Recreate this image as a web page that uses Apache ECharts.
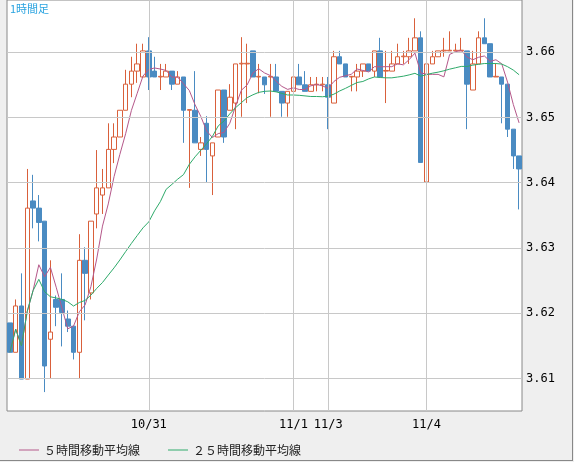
<!DOCTYPE html>
<html>
<head>
<meta charset="utf-8">
<script src="https://cdn.jsdelivr.net/npm/echarts@6/dist/echarts.min.js"></script>
<style>
html,body{margin:0;padding:0;background:#efefef;}
#chart{width:572px;height:460px;border-right:1px solid #888;border-bottom:1px solid #888;}
</style>
</head>
<body>
<div id="chart"></div>
<script>
// 時間足 [始値, 終値, 安値, 高値]
var ohlc = [
 [3.6185,3.6140,3.6140,3.6185],[3.6140,3.6211,3.6140,3.6221],[3.6211,3.6099,3.6099,3.6261],
 [3.6099,3.6361,3.6099,3.6421],[3.6372,3.6361,3.6330,3.6412],[3.6361,3.6339,3.6310,3.6381],
 [3.6341,3.6119,3.6079,3.6341],[3.6160,3.6171,3.6099,3.6281],[3.6221,3.6209,3.6180,3.6227],
 [3.6221,3.6201,3.6149,3.6261],[3.6191,3.6180,3.6171,3.6204],[3.6180,3.6140,3.6129,3.6180],
 [3.6140,3.6281,3.6099,3.6321],[3.6281,3.6261,3.6189,3.6301],[3.6231,3.6341,3.6221,3.6341],
 [3.6352,3.6392,3.6330,3.6450],[3.6381,3.6392,3.6352,3.6421],[3.6392,3.6451,3.6392,3.6491],
 [3.6451,3.6470,3.6430,3.6491],[3.6470,3.6511,3.6470,3.6511],[3.6511,3.6551,3.6511,3.6573],
 [3.6551,3.6571,3.6531,3.6593],[3.6571,3.6582,3.6553,3.6613],[3.6562,3.6602,3.6562,3.6613],
 [3.6602,3.6562,3.6542,3.6623],[3.6571,3.6562,3.6562,3.6593],[3.6562,3.6563,3.6542,3.6582],
 [3.6562,3.6571,3.6562,3.6582],[3.6571,3.6551,3.6542,3.6571],[3.6551,3.6562,3.6551,3.6571],
 [3.6562,3.6511,3.6461,3.6562],[3.6511,3.6512,3.6392,3.6512],[3.6511,3.6461,3.6461,3.6571],
 [3.6451,3.6461,3.6441,3.6470],[3.6491,3.6451,3.6401,3.6502],[3.6441,3.6461,3.6381,3.6461],
 [3.6470,3.6542,3.6470,3.6542],[3.6542,3.6470,3.6461,3.6542],[3.6511,3.6531,3.6511,3.6551],
 [3.6522,3.6582,3.6482,3.6582],[3.6582,3.6583,3.6501,3.6623],[3.6582,3.6583,3.6522,3.6613],
 [3.6602,3.6562,3.6562,3.6602],[3.6562,3.6563,3.6537,3.6582],[3.6562,3.6550,3.6536,3.6562],
 [3.6562,3.6563,3.6501,3.6582],[3.6562,3.6540,3.6540,3.6582],[3.6540,3.6522,3.6501,3.6540],
 [3.6522,3.6540,3.6501,3.6540],[3.6540,3.6562,3.6540,3.6571],[3.6562,3.6550,3.6550,3.6582],
 [3.6550,3.6540,3.6540,3.6571],[3.6540,3.6550,3.6540,3.6562],[3.6550,3.6551,3.6540,3.6562],
 [3.6550,3.6551,3.6540,3.6562],[3.6550,3.6531,3.6482,3.6562],[3.6522,3.6593,3.6522,3.6602],
 [3.6593,3.6582,3.6582,3.6602],[3.6582,3.6562,3.6562,3.6582],[3.6562,3.6563,3.6540,3.6562],
 [3.6562,3.6571,3.6540,3.6582],[3.6571,3.6582,3.6562,3.6582],[3.6582,3.6571,3.6571,3.6582],
 [3.6571,3.6602,3.6562,3.6602],[3.6602,3.6562,3.6562,3.6622],[3.6571,3.6572,3.6522,3.6602],
 [3.6571,3.6582,3.6571,3.6602],[3.6582,3.6593,3.6582,3.6613],[3.6593,3.6594,3.6582,3.6602],
 [3.6593,3.6602,3.6582,3.6622],[3.6602,3.6622,3.6602,3.6652],[3.6622,3.6431,3.6431,3.6632],
 [3.6401,3.6582,3.6401,3.6602],[3.6582,3.6593,3.6582,3.6602],[3.6593,3.6602,3.6593,3.6602],
 [3.6602,3.6603,3.6593,3.6622],[3.6602,3.6603,3.6602,3.6632],[3.6602,3.6603,3.6602,3.6613],
 [3.6602,3.6603,3.6602,3.6622],[3.6602,3.6551,3.6482,3.6602],[3.6542,3.6582,3.6542,3.6602],
 [3.6582,3.6622,3.6582,3.6632],[3.6622,3.6613,3.6613,3.6652],[3.6613,3.6562,3.6562,3.6613],
 [3.6562,3.6563,3.6562,3.6582],[3.6562,3.6551,3.6491,3.6562],[3.6551,3.6482,3.6470,3.6551],
 [3.6482,3.6441,3.6421,3.6482],[3.6441,3.6421,3.6359,3.6441]
];
// 日付の区切り(インデックス → ラベル)
var dayIdx = [24, 49, 55, 72];
var dayLabels = ['10/31', '11/1', '11/3', '11/4'];
var yTicks = [3.61, 3.62, 3.63, 3.64, 3.65, 3.66];

var cats = ohlc.map(function (d, i) { return i; });

function calcMA(n) {
    var out = [];
    for (var i = 0; i < ohlc.length; i++) {
        var s = 0, c = 0;
        for (var j = Math.max(0, i - n + 1); j <= i; j++) { s += ohlc[j][1]; c++; }
        out.push(+(s / c).toFixed(5));
    }
    return out;
}

var myChart = echarts.init(document.getElementById('chart'));
var gridLine = {color: '#c8c8c8', width: 1, type: 'solid'};
var option = {
    animation: false,
    backgroundColor: '#efefef',
    textStyle: {fontFamily: 'DejaVu Sans Mono'},
    graphic: [{
        type: 'text', left: 10, top: 3,
        style: {text: '1時間足', fill: '#29a3e0', font: '11px "Noto Sans CJK JP"'}
    }],
    legend: {
        left: 14, top: 439, itemWidth: 20, itemHeight: 1, itemGap: 28,
        icon: 'rect',
        textStyle: {fontFamily: 'Noto Sans CJK JP', fontSize: 12, color: '#222'},
        data: ['５時間移動平均線', '２５時間移動平均線']
    },
    grid: {
        left: 7, right: 50, top: 0, bottom: 49,
        show: true, backgroundColor: '#fff', borderColor: '#888', borderWidth: 1
    },
    xAxis: {
        type: 'category', data: cats, boundaryGap: true,
        axisLine: {show: false}, axisTick: {show: false}, splitLine: {show: false},
        axisLabel: {
            interval: 0, color: '#000', fontSize: 12, margin: 8,
            formatter: function (v, i) {
                var k = dayIdx.indexOf(i);
                return k >= 0 ? dayLabels[k] : '';
            }
        }
    },
    yAxis: {
        type: 'value', position: 'right', scale: true,
        min: 3.605, max: 3.668, interval: 0.005,
        axisLine: {show: false}, axisTick: {show: false}, splitLine: {show: false},
        axisLabel: {
            color: '#000', fontSize: 12, margin: 4,
            formatter: function (v) {
                return Math.round(v * 1000) % 10 === 0 ? v.toFixed(2) : '';
            }
        }
    },
    series: [{
        type: 'candlestick', name: 'ohlc', data: ohlc, barWidth: 5,
        itemStyle: {
            color: '#fff', borderColor: '#d9603b',
            color0: '#4a8bc2', borderColor0: '#4a8bc2', borderWidth: 1
        },
        markLine: {
            silent: true, symbol: 'none', label: {show: false},
            lineStyle: gridLine,
            data: dayIdx.map(function (i) { return {xAxis: i}; })
                .concat(yTicks.map(function (v) { return {yAxis: v}; }))
        },
        z: 3
    }, {
        type: 'line', name: '５時間移動平均線', data: calcMA(5),
        showSymbol: false, symbol: 'none',
        lineStyle: {color: '#b5588a', width: 1}, itemStyle: {color: '#b5588a'}, z: 4
    }, {
        type: 'line', name: '２５時間移動平均線', data: calcMA(25),
        showSymbol: false, symbol: 'none',
        lineStyle: {color: '#2eaa6a', width: 1}, itemStyle: {color: '#2eaa6a'}, z: 4
    }]
};
myChart.setOption(option);
</script>
</body>
</html>
